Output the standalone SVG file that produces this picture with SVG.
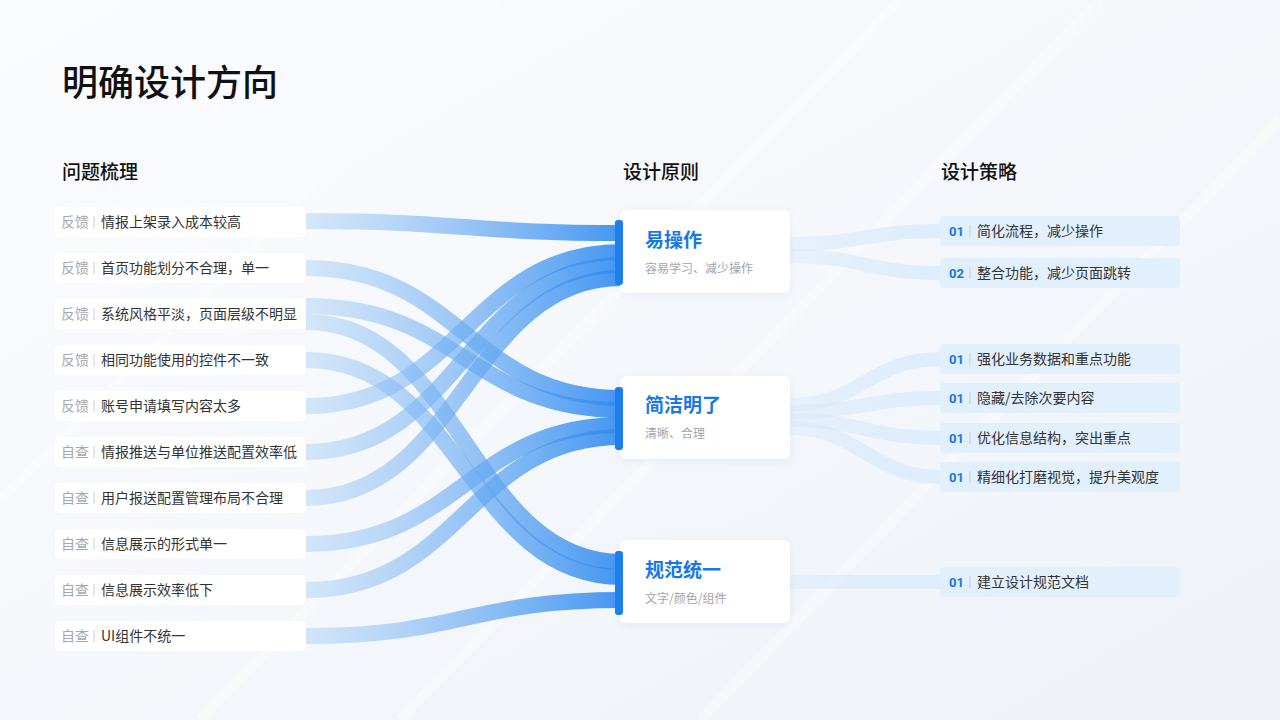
<svg xmlns="http://www.w3.org/2000/svg" width="1280" height="720" viewBox="0 0 1280 720">
<defs>
<linearGradient id="bg" x1="0" y1="0" x2="1" y2="1"><stop offset="0" stop-color="#fbfcfe"/><stop offset="1" stop-color="#eef2f8"/></linearGradient>
<linearGradient id="flow" gradientUnits="userSpaceOnUse" x1="306" y1="0" x2="622" y2="0"><stop offset="0" stop-color="#a9cff5" stop-opacity="0.45"/><stop offset="1" stop-color="#2f8af0" stop-opacity="0.9"/></linearGradient>
<linearGradient id="flowR" gradientUnits="userSpaceOnUse" x1="790" y1="0" x2="940" y2="0"><stop offset="0" stop-color="#cfe4fa" stop-opacity="0.3"/><stop offset="1" stop-color="#dcecfc" stop-opacity="0.9"/></linearGradient>
<filter id="sh" x="-20%" y="-40%" width="140%" height="180%"><feDropShadow dx="0" dy="2" stdDeviation="4" flood-color="#9fb3d0" flood-opacity="0.18"/></filter>
</defs>
<style>
.t{font-family:"Noto Sans CJK SC","Noto Sans",sans-serif}
.item{fill:#fff}
.tag{font-size:14px;fill:#a3a8b0}
.txt{font-size:14px;fill:#333}
.sep{stroke:#c8ccd2;stroke-width:1}
.f{fill:none;stroke:url(#flow);stroke-width:16}
.fr{fill:none;stroke:url(#flowR);stroke-width:14}
.card{fill:#fff}
.bar{fill:#1f7fea}
.ct{font-size:19px;font-weight:700;fill:#1677e8}
.cs{font-size:12px;fill:#a0a5ad}
.rb{fill:#e2effd}
.num{font-size:13px;font-weight:700;fill:#1677e8;font-family:"Roboto",sans-serif}
.rt{font-size:14px;fill:#333}
.h{font-size:19px;font-weight:500;fill:#111}
</style>
<rect width="1280" height="720" fill="url(#bg)"/>
<g stroke="#ffffff" stroke-width="10" opacity="0.35">
<line x1="200" y1="720" x2="900" y2="0"/><line x1="400" y1="720" x2="1100" y2="0"/><line x1="700" y1="720" x2="1280" y2="120"/><line x1="0" y1="500" x2="500" y2="0"/>
</g>
<text class="t" x="62" y="96" font-size="36" font-weight="500" fill="#111">明确设计方向</text>
<text class="t h" x="62" y="179">问题梳理</text>
<text class="t h" x="623" y="179">设计原则</text>
<text class="t h" x="941" y="179">设计策略</text>

<g id="connectors">
<path class="f" d="M306,221 C460,221 470,233 622,233"/>
<path class="f" d="M306,268 C460,268 470,398 622,398"/>
<path class="f" d="M306,306 C460,306 470,410 622,410"/>
<path class="f" d="M306,322 C460,322 470,562 622,562"/>
<path class="f" d="M306,360 C460,360 470,577 622,577"/>
<path class="f" d="M306,406 C460,406 470,252 622,252"/>
<path class="f" d="M306,452 C460,452 470,265 622,265"/>
<path class="f" d="M306,498 C460,498 470,278 622,278"/>
<path class="f" d="M306,544 C460,544 470,425 622,425"/>
<path class="f" d="M306,590 C460,590 470,437 622,437"/>
<path class="f" d="M306,636 C460,636 470,600 622,600"/>
<path class="fr" d="M790,244 C860,244 870,231 940,231"/>
<path class="fr" d="M790,256 C860,256 870,273 940,273"/>
<path class="fr" d="M790,405 C860,405 870,359 940,359"/>
<path class="fr" d="M790,412 C860,412 870,398 940,398"/>
<path class="fr" d="M790,420 C860,420 870,438 940,438"/>
<path class="fr" d="M790,428 C860,428 870,477 940,477"/>
<path class="fr" d="M790,582 C860,582 870,582 940,582"/>
</g>

<g id="problems" class="t">
<g id="p1"><rect class="item" x="55" y="207" width="251" height="30" rx="5"/><text class="tag" x="61" y="227">反馈</text><line class="sep" x1="94" y1="216" x2="94" y2="228"/><text class="txt" x="101" y="227">情报上架录入成本较高</text></g>
<g id="p2"><rect class="item" x="55" y="253" width="251" height="30" rx="5"/><text class="tag" x="61" y="273">反馈</text><line class="sep" x1="94" y1="262" x2="94" y2="274"/><text class="txt" x="101" y="273">首页功能划分不合理，单一</text></g>
<g id="p3"><rect class="item" x="55" y="299" width="251" height="30" rx="5"/><text class="tag" x="61" y="319">反馈</text><line class="sep" x1="94" y1="308" x2="94" y2="320"/><text class="txt" x="101" y="319">系统风格平淡，页面层级不明显</text></g>
<g id="p4"><rect class="item" x="55" y="345" width="251" height="30" rx="5"/><text class="tag" x="61" y="365">反馈</text><line class="sep" x1="94" y1="354" x2="94" y2="366"/><text class="txt" x="101" y="365">相同功能使用的控件不一致</text></g>
<g id="p5"><rect class="item" x="55" y="391" width="251" height="30" rx="5"/><text class="tag" x="61" y="411">反馈</text><line class="sep" x1="94" y1="400" x2="94" y2="412"/><text class="txt" x="101" y="411">账号申请填写内容太多</text></g>
<g id="p6"><rect class="item" x="55" y="437" width="251" height="30" rx="5"/><text class="tag" x="61" y="457">自查</text><line class="sep" x1="94" y1="446" x2="94" y2="458"/><text class="txt" x="101" y="457">情报推送与单位推送配置效率低</text></g>
<g id="p7"><rect class="item" x="55" y="483" width="251" height="30" rx="5"/><text class="tag" x="61" y="503">自查</text><line class="sep" x1="94" y1="492" x2="94" y2="504"/><text class="txt" x="101" y="503">用户报送配置管理布局不合理</text></g>
<g id="p8"><rect class="item" x="55" y="529" width="251" height="30" rx="5"/><text class="tag" x="61" y="549">自查</text><line class="sep" x1="94" y1="538" x2="94" y2="550"/><text class="txt" x="101" y="549">信息展示的形式单一</text></g>
<g id="p9"><rect class="item" x="55" y="575" width="251" height="30" rx="5"/><text class="tag" x="61" y="595">自查</text><line class="sep" x1="94" y1="584" x2="94" y2="596"/><text class="txt" x="101" y="595">信息展示效率低下</text></g>
<g id="p10"><rect class="item" x="55" y="621" width="251" height="30" rx="5"/><text class="tag" x="61" y="641">自查</text><line class="sep" x1="94" y1="630" x2="94" y2="642"/><text class="txt" x="101" y="641">UI组件不统一</text></g>
</g>

<g id="principles" class="t">
<g id="c1"><rect class="card" x="620" y="210" width="170" height="83" rx="6" filter="url(#sh)"/><rect class="bar" x="615" y="220" width="8" height="65" rx="3"/><text class="ct" x="645" y="247">易操作</text><text class="cs" x="645" y="273">容易学习、减少操作</text></g>
<g id="c2"><rect class="card" x="620" y="376" width="170" height="83" rx="6" filter="url(#sh)"/><rect class="bar" x="615" y="387" width="8" height="63" rx="3"/><text class="ct" x="645" y="412">简洁明了</text><text class="cs" x="645" y="438">清晰、合理</text></g>
<g id="c3"><rect class="card" x="620" y="540" width="170" height="83" rx="6" filter="url(#sh)"/><rect class="bar" x="615" y="551" width="8" height="64" rx="3"/><text class="ct" x="645" y="577">规范统一</text><text class="cs" x="645" y="603">文字/颜色/组件</text></g>
</g>

<g id="strategies" class="t">
<g id="s1"><rect class="rb" x="940" y="216" width="240" height="30" rx="4"/><text class="num" x="949" y="236">01</text><line class="sep" x1="970" y1="225" x2="970" y2="237"/><text class="rt" x="977" y="236">简化流程，减少操作</text></g>
<g id="s2"><rect class="rb" x="940" y="258" width="240" height="30" rx="4"/><text class="num" x="949" y="278">02</text><line class="sep" x1="970" y1="267" x2="970" y2="279"/><text class="rt" x="977" y="278">整合功能，减少页面跳转</text></g>
<g id="s3"><rect class="rb" x="940" y="344" width="240" height="30" rx="4"/><text class="num" x="949" y="364">01</text><line class="sep" x1="970" y1="353" x2="970" y2="365"/><text class="rt" x="977" y="364">强化业务数据和重点功能</text></g>
<g id="s4"><rect class="rb" x="940" y="383" width="240" height="30" rx="4"/><text class="num" x="949" y="403">01</text><line class="sep" x1="970" y1="392" x2="970" y2="404"/><text class="rt" x="977" y="403">隐藏/去除次要内容</text></g>
<g id="s5"><rect class="rb" x="940" y="423" width="240" height="30" rx="4"/><text class="num" x="949" y="443">01</text><line class="sep" x1="970" y1="432" x2="970" y2="444"/><text class="rt" x="977" y="443">优化信息结构，突出重点</text></g>
<g id="s6"><rect class="rb" x="940" y="462" width="240" height="30" rx="4"/><text class="num" x="949" y="482">01</text><line class="sep" x1="970" y1="471" x2="970" y2="483"/><text class="rt" x="977" y="482">精细化打磨视觉，提升美观度</text></g>
<g id="s7"><rect class="rb" x="940" y="567" width="240" height="30" rx="4"/><text class="num" x="949" y="587">01</text><line class="sep" x1="970" y1="576" x2="970" y2="588"/><text class="rt" x="977" y="587">建立设计规范文档</text></g>
</g>
</svg>
